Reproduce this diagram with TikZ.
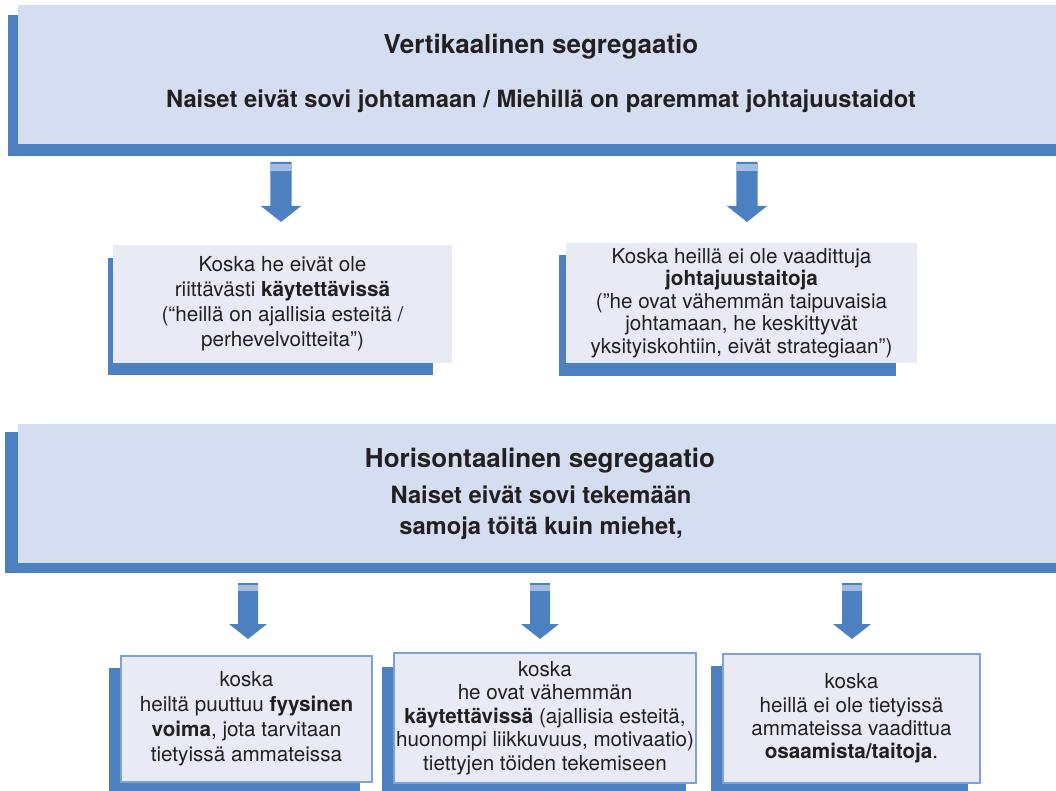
\documentclass[tikz,border=0pt]{standalone}
\usepackage{fontspec}
\setmainfont{TeX Gyre Heros}
\definecolor{boxblue}{RGB}{76,128,193}
\definecolor{bandblue}{RGB}{165,188,225}
\definecolor{bigfill}{RGB}{213,222,240}
\definecolor{smallfill}{RGB}{232,234,246}
\definecolor{edgeblue}{RGB}{125,162,214}
\definecolor{inkgray}{RGB}{35,31,32}

\tikzset{
  bigbox/.style={fill=bigfill, inner sep=0pt, minimum width=778.5pt, minimum height=104.25pt},
  midbox/.style={fill=smallfill, inner sep=0pt, align=center, text=inkgray},
  lowbox/.style={midbox, draw=edgeblue, line width=1pt},
  headline/.style={text=inkgray, inner sep=0pt, align=center, font=\bfseries\fontsize{19.5}{23}\selectfont},
  subline/.style={text=inkgray, inner sep=0pt, align=center, font=\bfseries\fontsize{17.8}{23.25}\selectfont},
  blockarrow/.pic={
    \fill[boxblue] (-10,0) -- (10,0) -- (10,41) -- (19,41) -- (0,56) -- (-19,41) -- (-10,41) -- cycle;
    \fill[bandblue] (-10,2) rectangle (10,8);
  }
}

\begin{document}
\begin{tikzpicture}[x=0.75pt,y=-0.75pt]
    \useasboundingbox (0,0) rectangle (1056,791);
    % blue backs behind the boxes
    \foreach \a/\b/\c/\d in {8/15/1056/156, 108/258/433/375, 559/255/896/376, 5/432/1056/573,
                             109/668/360/791, 382/667/686/791, 711/666/968/791}
    \fill[boxblue] (\a,\b) rectangle (\c,\d);
    % the block arrows
    \foreach \x in {281,747}
    \pic[scale=1.07] at (\x,162) {blockarrow};
    \foreach \x in {248,540,852}
    \pic at (\x,583) {blockarrow};

    \node[bigbox] (vert) at (537,74.5) {};
    \node[headline] (verttitle) at (541,47) {Vertikaalinen segregaatio};
    \node[subline] (vertclaim) at (541,101) {Naiset eivät sovi johtamaan / Miehillä on paremmat johtajuustaidot};

    \node[midbox, minimum width=254.25pt, minimum height=88.5pt, font=\fontsize{15.5}{18.75}\selectfont]
      (kaytto) at (282.5,304) {Koska he eivät ole\\riittävästi \textbf{käytettävissä}\\(“heillä on ajallisia esteitä /\\perhevelvoitteita”)};
    \node[midbox, minimum width=263.25pt, minimum height=90pt, font=\fontsize{15.5}{16.9}\selectfont]
      (johto) at (741.5,303) {Koska heillä ei ole vaadittuja\\\textbf{johtajuustaitoja}\\(”he ovat vähemmän taipuvaisia\\johtamaan, he keskittyvät\\yksityiskohtiin, eivät strategiaan”)};

    \node[bigbox] (horis) at (537,493.5) {};
    \node[headline] (horistitle) at (540,461) {Horisontaalinen segregaatio};
    \node[subline] (horisclaim) at (541,512.5) {Naiset eivät sovi tekemään\\samoja töitä kuin miehet,};

    \node[lowbox, minimum width=188.25pt, minimum height=94.5pt, font=\fontsize{15.5}{18.75}\selectfont]
      (voima) at (246.5,719) {koska\\heiltä puuttuu \textbf{fyysinen}\\\textbf{voima}, jota tarvitaan\\tietyissä ammateissa};
    \node[lowbox, minimum width=226.5pt, minimum height=97.5pt, font=\fontsize{15.5}{17.6}\selectfont]
      (saatavuus) at (545,718) {koska\\he ovat vähemmän\\\textbf{käytettävissä} (ajallisia esteitä,\\huonompi liikkuvuus, motivaatio)\\tiettyjen töiden tekemiseen};
    \node[lowbox, minimum width=192.75pt, minimum height=96.75pt, font=\fontsize{15.5}{17.6}\selectfont]
      (osaaminen) at (851.5,718.5) {koska\\heillä ei ole tietyissä\\ammateissa vaadittua\\\textbf{osaamista/taitoja}.};
\end{tikzpicture}
\end{document}
